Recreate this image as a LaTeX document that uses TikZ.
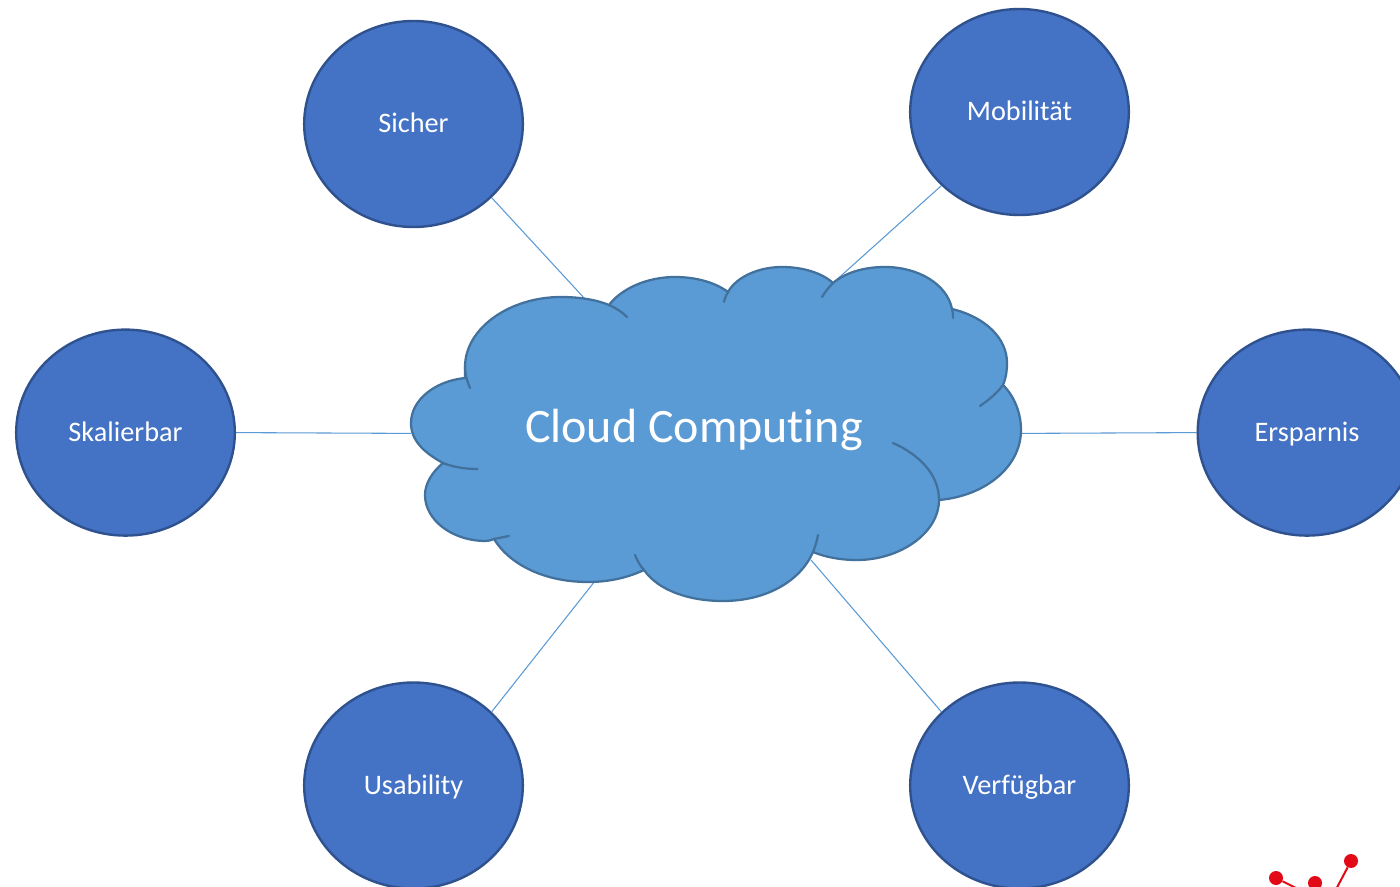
\documentclass[tikz,border=0pt]{standalone}
\usepackage{fontspec}
\setmainfont{Carlito}[Ligatures=NoCommon]
\usetikzlibrary{shapes.geometric}
\definecolor{circfill}{HTML}{4472C4}
\definecolor{circline}{HTML}{2F528F}
\definecolor{cloudfill}{HTML}{5B9BD5}
\definecolor{cloudline}{HTML}{41719C}
\definecolor{logored}{HTML}{E30A17}
\tikzset{
  bubble/.style={ellipse,draw=circline,fill=circfill,line width=1.8pt,minimum width=164pt,minimum height=154.5pt,inner sep=0pt,text=white,font=\fontsize{21.2pt}{25pt}\selectfont,text height=16pt,text depth=2.5pt},
  link/.style={draw=cloudfill,line width=0.8pt},
  cloudedge/.style={draw=cloudline,line width=1.7pt,line cap=round},
  dot/.style={circle,fill=logored,minimum size=10.5pt,inner sep=0pt},
  logoline/.style={draw=logored,line width=1.5pt}
}
\begin{document}
\begin{tikzpicture}[x=0.75pt,y=-0.75pt]
\useasboundingbox (0,0) rectangle (1400,887);
\fill[white] (0,0) rectangle (1400,887);
\clip (0,0) rectangle (1400,887);
% free ends of the connectors on the cloud
\coordinate (cSicher) at (585,299);
\coordinate (cMobil) at (833,283);
\coordinate (cSkal) at (411,433.4);
\coordinate (cErsp) at (1021,433.4);
\coordinate (cUsab) at (595,581);
\coordinate (cVerf) at (811,560);
% circles
\node[bubble] (sicher) at (413.5,124) {Sicher};
\node[bubble] (mobil) at (1019.5,112) {Mobilität};
\node[bubble] (skal) at (125.5,432.6) {Skalierbar};
\node[bubble] (ersp) at (1307,432.6) {Ersparnis};
\node[bubble] (usab) at (413.5,785.5) {Usability};
\node[bubble] (verf) at (1019.5,785.5) {Verfügbar};
% connectors
\draw[link] (sicher.south east) -- (cSicher);
\draw[link] (mobil.south west) -- (cMobil);
\draw[link] (skal.east) -- (cSkal);
\draw[link] (ersp.west) -- (cErsp);
\draw[link] (usab.north east) -- (cUsab);
\draw[link] (verf.north west) -- (cVerf);
% cloud
\path[cloudedge,fill=cloudfill]
  (465,378) -- (465,367)
  .. controls (465,328) and (510,297) .. (561,297)
  .. controls (580,297) and (597,300) .. (609,305)
  .. controls (622,288) and (648,277) .. (675,277)
  .. controls (697,277) and (716,283) .. (728,292)
  .. controls (737,276) and (760,267) .. (782,267)
  .. controls (803,267) and (822,273) .. (833,283)
  .. controls (845,273) and (863,267) .. (885,267)
  .. controls (918,267) and (947,284) .. (952,309)
  .. controls (985,317) and (1007,338) .. (1007,363)
  .. controls (1007,371) and (1006,378) .. (1003,385)
  .. controls (1015,397) and (1021,414) .. (1021,430)
  .. controls (1021,467) and (985,496) .. (939,500)
  .. controls (939,533) and (900,560) .. (857,560)
  .. controls (840,560) and (825,557) .. (813,552)
  .. controls (800,582) and (765,601) .. (723,601)
  .. controls (688,601) and (658,590) .. (644,570)
  .. controls (627,578) and (608,582) .. (588,582)
  .. controls (545,582) and (510,565) .. (494,539)
  .. controls (491,540) and (489,541) .. (486,541)
  .. controls (452,541) and (425,520) .. (425,495)
  .. controls (425,484) and (432,472) .. (443,463)
  .. controls (423,452) and (411,440) .. (411,423)
  .. controls (411,400) and (435,381) .. (465,378) -- cycle;
% inner strokes of the cloud
\draw[cloudedge] (470,388) .. controls (467,381) and (465,374) .. (465,367);
\draw[cloudedge] (609,305) .. controls (616,308) and (622,312) .. (627,317);
\draw[cloudedge] (728,292) .. controls (726,295) and (725,298) .. (724,302);
\draw[cloudedge] (833,283) .. controls (829,287) and (825,292) .. (822,297);
\draw[cloudedge] (952,309) .. controls (953,312) and (953,315) .. (953,318);
\draw[cloudedge] (1003,385) .. controls (997,393) and (990,399) .. (980,406);
\draw[cloudedge] (893,443) .. controls (920,455) and (939,475) .. (939,500);
\draw[cloudedge] (813,552) .. controls (815,547) and (817,541) .. (818,535);
\draw[cloudedge] (644,570) .. controls (640,566) and (637,560) .. (635,555);
\draw[cloudedge] (494,539) .. controls (499,538) and (504,537) .. (509,536);
\draw[cloudedge] (443,463) .. controls (453,467) and (465,469) .. (477.5,469);
\node[text=white,font=\fontsize{36pt}{42pt}\selectfont,inner sep=0pt] (title) at (694,430) {Cloud Computing};
% logo fragment
\node[dot] (d1) at (1276,878) {};
\node[dot] (d2) at (1315,883) {};
\node[dot] (d3) at (1351,861) {};
\coordinate (e1) at (1304,892);
\coordinate (e3) at (1333,895);
\draw[logoline] (d1) -- (e1);
\draw[logoline] (d3) -- (e3);
\end{tikzpicture}
\end{document}
